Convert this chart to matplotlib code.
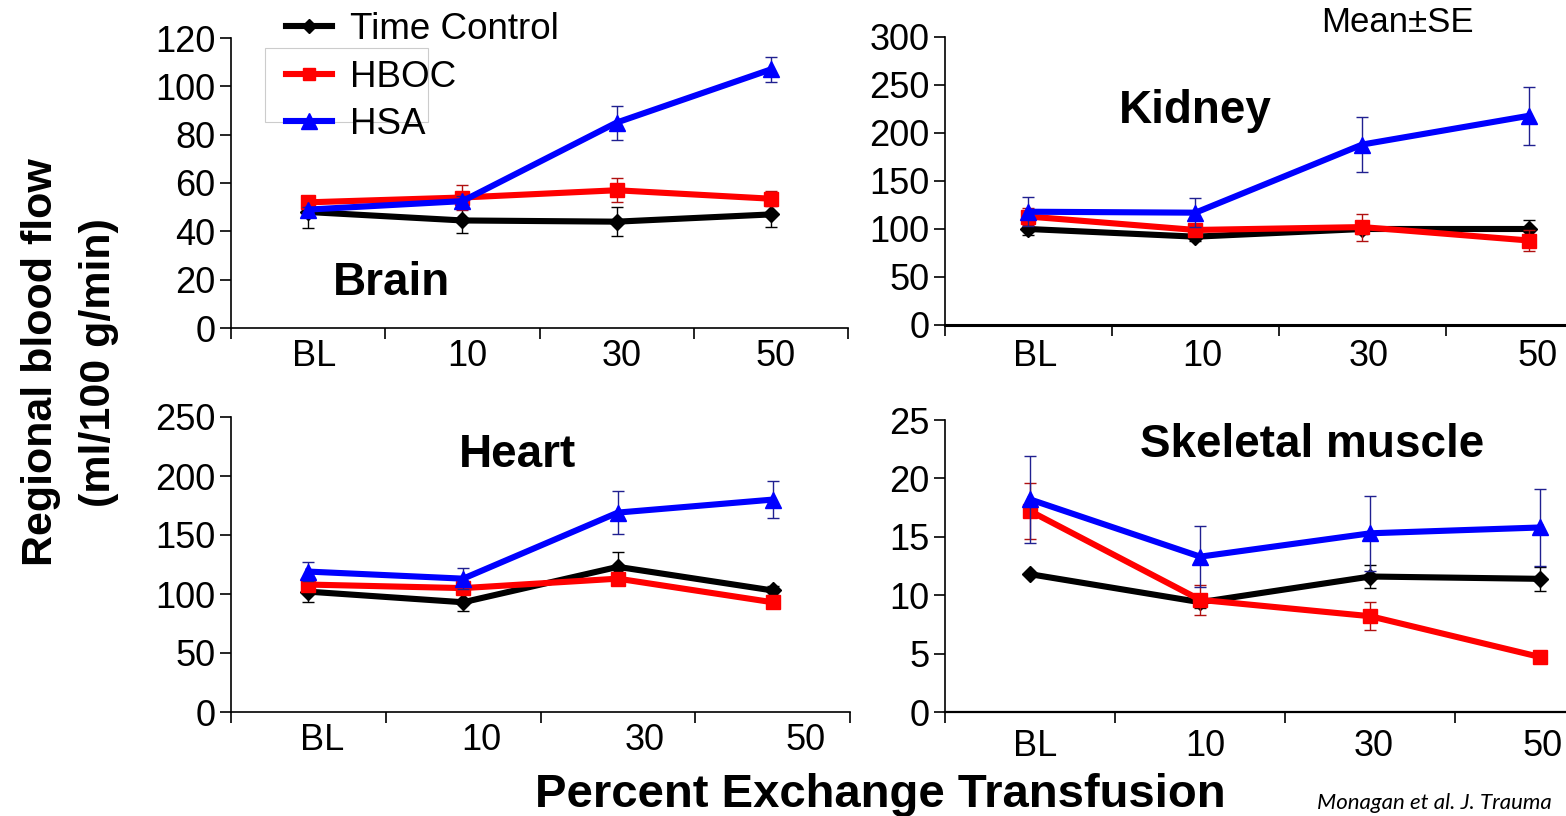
import matplotlib
matplotlib.use("Agg")
import matplotlib.pyplot as plt
from matplotlib.lines import Line2D
from matplotlib.patches import Rectangle

plt.rcParams['font.family'] = ['Liberation Sans', 'DejaVu Sans']

W, H = 1566, 816

categories = ["BL", "10", "30", "50"]
series_names = ["Time Control", "HBOC", "HSA"]

brain_tc = [48, 44.5, 44, 47]
brain_tc_se = [6.5, 5, 6, 5]
brain_hboc = [52, 54, 57, 53.5]
brain_hboc_se = [1.5, 5, 5, 3]
brain_hsa = [49, 52.5, 85, 107]
brain_hsa_se = [1, 2, 7, 5]

kidney_tc = [100, 92, 100, 100]
kidney_tc_se = [6, 5, 5, 9]
kidney_hboc = [113, 99, 102, 88]
kidney_hboc_se = [9, 5, 14, 11]
kidney_hsa = [118, 117, 188, 218]
kidney_hsa_se = [15, 15, 29, 30]

heart_tc = [102, 93, 123, 103]
heart_tc_se = [9, 7, 13, 4]
heart_hboc = [108, 105, 113, 93]
heart_hboc_se = [3, 3, 3, 3]
heart_hsa = [119, 113, 169, 180]
heart_hsa_se = [8, 9, 18, 16]

muscle_tc = [11.8, 9.4, 11.6, 11.4]
muscle_tc_se = [0.0, 0.5, 1.0, 1.0]
muscle_hboc = [17.2, 9.6, 8.2, 4.7]
muscle_hboc_se = [2.4, 1.3, 1.2, 0.0]
muscle_hsa = [18.2, 13.3, 15.3, 15.8]
muscle_hsa_se = [3.7, 2.6, 3.2, 3.3]

line_colors = ["#000000", "#ff0000", "#0000ff"]
err_colors = ["#000000", "#b01010", "#202090"]
markers = ["D", "s", "^"]
msizes = [8, 10, 12]

fig = plt.figure(figsize=(W / 100, H / 100), dpi=100)


def px_axes(left, right, bottom, top):
    return fig.add_axes([left / W, 1 - bottom / H, (right - left) / W, (bottom - top) / H])


panels = [
    dict(name="Brain", box=(231, 848, 328, 38), ylim=120, ystep=20, xmax=4.0,
         data=[(brain_tc, brain_tc_se), (brain_hboc, brain_hboc_se), (brain_hsa, brain_hsa_se)],
         lblx=[0.54, 1.53, 2.53, 3.53], pad=8, title=(392, 295), spw=1.2),
    dict(name="Kidney", box=(945, 1566, 325, 37), ylim=300, ystep=50, xmax=3.72,
         data=[(kidney_tc, kidney_tc_se), (kidney_hboc, kidney_hboc_se), (kidney_hsa, kidney_hsa_se)],
         lblx=[0.54, 1.54, 2.54, 3.55], pad=10, title=(1195, 123), spw=2.2),
    dict(name="Heart", box=(231, 850, 712, 417), ylim=250, ystep=50, xmax=4.0,
         data=[(heart_tc, heart_tc_se), (heart_hboc, heart_hboc_se), (heart_hsa, heart_hsa_se)],
         lblx=[0.59, 1.62, 2.67, 3.71], pad=8, title=(517, 467), spw=1.2),
    dict(name="Skeletal muscle", box=(945, 1566, 712, 420), ylim=25, ystep=5, xmax=3.65,
         data=[(muscle_tc, muscle_tc_se), (muscle_hboc, muscle_hboc_se), (muscle_hsa, muscle_hsa_se)],
         lblx=[0.53, 1.53, 2.52, 3.51], pad=12, title=(1312, 457), spw=1.6),
]

xpos = [0.5, 1.5, 2.5, 3.5]

for p in panels:
    l, r, b, t = p["box"]
    ax = px_axes(l, r, b, t)
    for i, (vals, se) in enumerate(p["data"]):
        ax.errorbar(xpos, vals, yerr=se, fmt="none", ecolor=err_colors[i],
                    elinewidth=1.0, capsize=4, capthick=1.0, zorder=2 + i)
        ax.plot(xpos, vals, color=line_colors[i], lw=4.4, marker=markers[i],
                ms=msizes[i], mfc=line_colors[i], mec=line_colors[i], zorder=3 + i,
                clip_on=False)
    ax.set_ylim(0, p["ylim"])
    ax.set_xlim(0, p["xmax"])
    ax.set_yticks(range(0, p["ylim"] + 1, p["ystep"]))
    major = [k for k in range(0, 5) if k <= p["xmax"] + 1e-9]
    ax.set_xticks(major)
    ax.set_xticklabels([])
    ax.set_xticks(p["lblx"], minor=True)
    ax.set_xticklabels(categories, minor=True)
    ax.tick_params(axis="x", which="major", direction="out", length=8, width=1.2)
    ax.tick_params(axis="x", which="minor", length=0, pad=p["pad"], labelsize=26)
    ax.tick_params(axis="y", direction="out", length=8, width=1.2, pad=3, labelsize=26)
    for s in ["top", "right"]:
        ax.spines[s].set_visible(False)
    ax.spines["left"].set_linewidth(1.2)
    ax.spines["bottom"].set_linewidth(p["spw"])
    ax.patch.set_alpha(0)
    tx, ty = p["title"]
    fig.text(tx / W, 1 - ty / H, p["name"], fontsize=33, fontweight="bold",
             ha="center", va="baseline")

# legend
fig.patches.append(Rectangle((265 / W, 1 - 122 / H), (428 - 265) / W, (122 - 48) / H,
                             transform=fig.transFigure, fill=False,
                             edgecolor="#cccccc", lw=0.8, zorder=0))
handles = [Line2D([], [], color=line_colors[i], lw=4.4, marker=markers[i],
                  ms=msizes[i] - 1) for i in range(3)]
fig.legend(handles, series_names, loc="upper left",
           bbox_to_anchor=(286 / W, 1 - 12 / H), frameon=False, fontsize=26.5,
           handlelength=1.25, handletextpad=0.5, labelspacing=0.34,
           borderpad=0, borderaxespad=0)

fig.text(1397 / W, 1 - 22 / H, "Mean±SE", fontsize=25, ha="center", va="center")
fig.text(880 / W, 1 - 807 / H, "Percent Exchange Transfusion", fontsize=34,
         fontweight="bold", ha="center", va="baseline")
fig.text(41 / W, 1 - 362 / H, "Regional blood flow", fontsize=31, fontweight="bold",
         rotation=90, ha="center", va="center")
fig.text(99 / W, 1 - 363 / H, "(ml/100 g/min)", fontsize=31, fontweight="bold",
         rotation=90, ha="center", va="center")
fig.text(1317 / W, 1 - 793 / H, "Monagan et al. J. Trauma", fontsize=16,
         fontstyle="italic", family=["Lato", "DejaVu Sans"], ha="left", va="top")

fig.savefig("out.png", dpi=100)
